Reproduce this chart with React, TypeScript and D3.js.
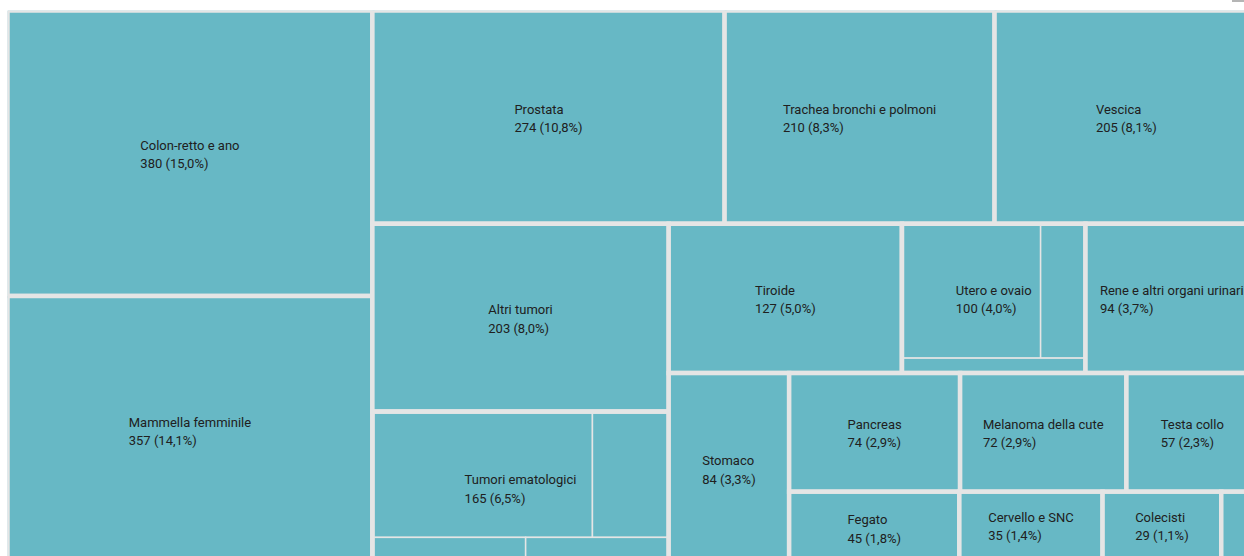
import React, { useEffect, useRef } from 'react'
import * as d3 from 'd3'

// sedi tumorali (livello 1) e numero di casi
const sedi = [
  "Colon-retto e ano", "Mammella femminile", "Prostata", "Trachea bronchi e polmoni",
  "Vescica", "Altri tumori", "Tumori ematologici", "Tiroide", "Utero e ovaio",
  "Rene e altri organi urinari", "Stomaco", "Pancreas", "Melanoma della cute",
  "Testa collo", "Fegato", "Cervello e SNC", "Colecisti", "Esofago", "Mesotelioma"
]
const casi = [380, 357, 274, 210, 205, 203, 0, 127, 0, 94, 84, 74, 72, 57, 45, 35, 29, 9, 6]

// sotto-voci dei gruppi
const ematologiciNomi = ["Linfomi non Hodgkin", "Leucemie", "Mieloma", "Linfoma di Hodgkin"]
const ematologiciCasi = [101, 35, 15, 14]
const uteroNomi = ["Corpo dell'utero", "Ovaio", "Cervice uterina"]
const uteroCasi = [68, 22, 10]

const width = 1244
const height = 556
const plot = { x: 7.5, y: 10.5, w: 1250.6, h: 553.7 }
const fillColor = "#67b8c5"
const borderColor = "#e5e5e5"

const buildData = () => ({
  name: "root",
  children: sedi.map((s, i) => {
    if (s === "Tumori ematologici")
      return { name: s, children: ematologiciNomi.map((n, j) => ({ name: n, value: ematologiciCasi[j] })) }
    if (s === "Utero e ovaio")
      return { name: s, children: uteroNomi.map((n, j) => ({ name: n, value: uteroCasi[j] })) }
    return { name: s, value: casi[i] }
  })
})

// squarified con cambio di direzione ad ogni riga
function alternatingSquarify(parent: any, x0: number, y0: number, x1: number, y1: number) {
  const kids = parent.children
  let dir = parent.depth === 0 ? 0 : 1
  let gx = x0, gy = y0, gw = x1 - x0, gh = y1 - y0
  const k = (gw * gh) / parent.value
  const ratio = (a: number, b: number) => Math.max(a / b, b / a)

  let row: any[] = []
  let total = 0

  const place = (items: any[], size: number) => {
    if (dir === 0) {
      let y = gy
      items.forEach(it => {
        const h = it.area / size
        it.node.x0 = gx; it.node.x1 = gx + size
        it.node.y0 = y; it.node.y1 = y + h
        y += h
      })
      gx += size; gw -= size
    } else {
      let x = gx
      items.forEach(it => {
        const w = it.area / size
        it.node.x0 = x; it.node.x1 = x + w
        it.node.y0 = gy; it.node.y1 = gy + size
        x += w
      })
      gy += size; gh -= size
    }
    dir = 1 - dir
  }

  kids.forEach((node: any) => {
    const area = node.value * k
    if (row.length === 0) {
      row.push({ node, area }); total = area
      return
    }
    const side = dir === 0 ? gh : gw
    const prev = row[row.length - 1].area
    const oldT = total / side
    const newT = (total + area) / side
    const oldR = ratio(oldT, prev / oldT)
    const newR = ratio(newT, prev / newT)
    if (newR > oldR) {
      place(row, oldT)
      row = [{ node, area }]
      total = area
    } else {
      row.push({ node, area })
      total += area
    }
  })
  if (row.length) place(row, total / (dir === 0 ? gh : gw))
}

const App = () => {
  const ref = useRef<SVGSVGElement>(null)

  useEffect(() => {
    const svg = d3.select(ref.current)
    svg.selectAll("*").remove()

    const root = d3.hierarchy<any>(buildData())
      .sum(d => d.value || 0)
      .sort((a, b) => (b.value || 0) - (a.value || 0))

    d3.treemap<any>().size([plot.w, plot.h]).tile(alternatingSquarify as any).round(false)(root)

    const grandTotal = root.value || 1
    const fmt = (v: number) => v + " (" + (v / grandTotal * 100).toFixed(1).replace(".", ",") + "%)"

    svg.append("rect").attr("width", width).attr("height", height).attr("fill", "#ffffff")
    svg.append("rect").attr("x", 1232).attr("y", 0).attr("width", 12).attr("height", 2).attr("fill", "#b5b5b5")

    svg.append("defs").append("clipPath").attr("id", "plot-clip")
      .append("rect").attr("x", plot.x).attr("y", plot.y).attr("width", plot.w).attr("height", plot.h)

    const g = svg.append("g").attr("clip-path", "url(#plot-clip)")
      .append("g").attr("transform", "translate(" + plot.x + "," + plot.y + ")")

    const top = root.children || []

    // sotto-voci (bordo sottile)
    g.append("g").selectAll("rect")
      .data(root.leaves().filter(d => d.depth === 2))
      .join("rect")
      .attr("x", (d: any) => d.x0).attr("y", (d: any) => d.y0)
      .attr("width", (d: any) => d.x1 - d.x0).attr("height", (d: any) => d.y1 - d.y0)
      .attr("fill", fillColor)
      .attr("stroke", borderColor)
      .attr("stroke-width", 1.5)

    // livello 1 (bordo spesso)
    g.append("g").selectAll("rect")
      .data(top)
      .join("rect")
      .attr("x", (d: any) => d.x0).attr("y", (d: any) => d.y0)
      .attr("width", (d: any) => d.x1 - d.x0).attr("height", (d: any) => d.y1 - d.y0)
      .attr("fill", d => d.children ? "none" : fillColor)
      .attr("stroke", borderColor)
      .attr("stroke-width", 4.5)

    const labels = g.append("g")
      .attr("font-family", "Roboto, 'Noto Sans', sans-serif")
      .attr("font-size", 13)
      .attr("fill", "#202020")

    top.forEach((d: any) => {
      const cx = (d.x0 + d.x1) / 2
      const cy = (d.y0 + d.y1) / 2
      const lab = labels.append("g")
      const t1 = lab.append("text").text(d.data.name).attr("y", cy - 3.5)
      const t2 = lab.append("text").text(fmt(d.value)).attr("y", cy + 15)
      const w = Math.max((t1.node() as any).getComputedTextLength(), (t2.node() as any).getComputedTextLength())
      if (w > d.x1 - d.x0 - 4 || d.y1 - d.y0 < 40) {
        lab.remove()
        return
      }
      lab.selectAll("text").attr("x", cx - w / 2)
    })
  }, [])

  return (
    <svg ref={ref} width={width} height={height}
      style={{ position: "absolute", left: 0, top: 0, display: "block" }} />
  )
}

export default App
